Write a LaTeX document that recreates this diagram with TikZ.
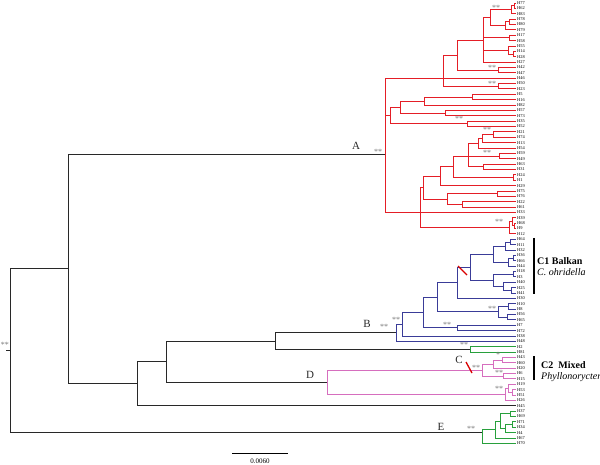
\documentclass[tikz,border=0pt]{standalone}
\usepackage{fontspec}
\setmainfont{Liberation Serif}
\usetikzlibrary{positioning}
\definecolor{cladeA}{RGB}{228,30,38}
\definecolor{cladeB}{RGB}{58,60,152}
\definecolor{cladeD}{RGB}{214,110,190}
\definecolor{cladeE}{RGB}{40,160,60}
\definecolor{stemgray}{RGB}{40,40,40}
\definecolor{bootgray}{RGB}{120,120,120}

\begin{document}
\begin{tikzpicture}[
  x=1pt, y=-1pt,
  br/.style={line width=0.85pt},
  brA/.style={br, cladeA},
  brB/.style={br, cladeB},
  brD/.style={br, cladeD},
  brE/.style={br, cladeE},
  brK/.style={br, stemgray},
  leaf/.style={anchor=west, inner sep=1pt, font=\fontsize{4.4}{5}\selectfont},
  bs/.style={text=bootgray, inner sep=0pt, font=\fontsize{8}{8}\selectfont},
  clab/.style={text=stemgray, inner sep=0pt, font=\fontsize{11}{11}\selectfont},
  grp/.style={anchor=base west, inner sep=0pt, font=\fontsize{10}{12}\selectfont},
  redcut/.style={line width=1.3pt, red!85!black},
  cbracket/.style={line width=1.2pt, black}
]
  \useasboundingbox (0,0) rectangle (600,465);

  % Leaves
  \foreach \lab [count=\i from 0] in {H77,H62,H83,H78,H80,H79,H17,H58,H55,H14,H28,H27,H42,H47,H46,H50,H23,H5,H16,H82,H57,H73,H35,H52,H21,H74,H13,H54,H59,H49,H63,H31,H24,H1,H29,H75,H76,H22,H61,H33,H39,H68,H9,H12,H64,H11,H32,H36,H66,H44,H18,H3,H40,H25,H41,H30,H10,H8,H56,H65,H7,H72,H38,H48,H2,H81,H43,H60,H20,H6,H15,H19,H53,H51,H26,H45,H37,H69,H71,H34,H4,H67,H70}
    \node[leaf] (L\i) at (516,{3+5.37*\i}) {\lab};

  % Backbone
  \coordinate (kS) at (6,350);
  \coordinate (k0) at (10,350);
  \coordinate (kTop) at (68,268.7);
  \coordinate (kBot) at (137,383.4);
  \coordinate (kBD) at (166,361.5);
  \coordinate (kB) at (275,341.1);

  % Clade A
  \coordinate (a0) at (385,154);
  \coordinate (aL) at (443,78.18);
  \coordinate (aK) at (457,55.1);
  \coordinate (aI) at (483,40);
  \coordinate (aD) at (490,17.8);
  \coordinate (aB) at (511,9.7);
  \coordinate (aAB) at (514,5.7);
  \coordinate (aC) at (505,25.8);
  \coordinate (aC1) at (509,21.8);
  \coordinate (aE) at (509,37.9);
  \coordinate (aG) at (508,50);
  \coordinate (aG1) at (513,54);
  \coordinate (aJ) at (498,70.1);
  \coordinate (aM) at (498,86.2);
  \coordinate (aS) at (390,115.4);
  \coordinate (aS4) at (400,107.05);
  \coordinate (aS2) at (424,101);
  \coordinate (aS1) at (472,97);
  \coordinate (aS3) at (445,113.1);
  \coordinate (aS5) at (467,123.8);
  \coordinate (aT) at (420,212.43);
  \coordinate (aU) at (423,187.6);
  \coordinate (aW) at (440,176.2);
  \coordinate (aW1) at (453,166.8);
  \coordinate (aQ6) at (468,156);
  \coordinate (aQ3) at (478,143.3);
  \coordinate (aQ2) at (482,138.6);
  \coordinate (aQ1) at (493,134.6);
  \coordinate (aQ4) at (499,156);
  \coordinate (aQ5) at (483,166.8);
  \coordinate (aQ7) at (513,177.5);
  \coordinate (aX) at (447,199);
  \coordinate (aX1) at (497,193.6);
  \coordinate (aX2) at (462,204.4);
  \coordinate (aV) at (509,227.9);
  \coordinate (aV2) at (512,221.8);
  \coordinate (aV1) at (514,225.9);

  % Clade B
  \coordinate (b15) at (396,332.8);
  \coordinate (b14) at (402,324.3);
  \coordinate (b13) at (423,312.6);
  \coordinate (b12) at (457,327.9);
  \coordinate (b11) at (437,297.3);
  \coordinate (b10) at (498,311.8);
  \coordinate (b10a) at (508,306.4);
  \coordinate (b10b) at (507,317.1);
  \coordinate (b9) at (457,282.8);
  \coordinate (b8) at (470,267.2);
  \coordinate (b7) at (493,280.2);
  \coordinate (b6) at (503,286.3);
  \coordinate (b6a) at (511,290.3);
  \coordinate (b5) at (513,274.2);
  \coordinate (b4) at (493,254.1);
  \coordinate (b3) at (508,262.1);
  \coordinate (b3a) at (513,258.1);
  \coordinate (b2) at (505,246);
  \coordinate (b1) at (510,242);
  \coordinate (g1) at (470,349.4);

  % Clade D
  \coordinate (pR) at (327,382.3);
  \coordinate (pC) at (482,370.2);
  \coordinate (p2) at (493,364.1);
  \coordinate (p1) at (502,360.1);
  \coordinate (p3) at (503,376.2);
  \coordinate (p5) at (505,394.3);
  \coordinate (p4) at (508,388.3);
  \coordinate (p4a) at (512,392.3);

  % Clade E
  \coordinate (eR) at (482,432);
  \coordinate (e4) at (495,429.6);
  \coordinate (e4a) at (500,421.2);
  \coordinate (e1) at (510,413.8);
  \coordinate (e3) at (505,428.6);
  \coordinate (e3a) at (512,424.5);

  % Branches
  \draw[brK] (kS) -- (k0);
  \foreach \p/\c in {k0/kTop, k0/eR, kTop/a0, kTop/kBot, kBot/kBD, kBot/L75, kBD/kB, kBD/pR, kB/b15, kB/g1}
    \draw[brK] (\p) |- (\c);
  \foreach \p/\c in {a0/aL, a0/aS, a0/aT, aL/aK, aL/L14, aL/aM, aK/aI, aK/aJ, aI/aD, aI/aE, aI/aG, aI/L11,
      aD/aB, aD/aC, aB/aAB, aB/L2, aAB/L0, aAB/L1, aC/aC1, aC/L5, aC1/L3, aC1/L4, aE/L6, aE/L7,
      aG/L8, aG/aG1, aG1/L9, aG1/L10, aJ/L12, aJ/L13, aM/L15, aM/L16,
      aS/aS4, aS/aS5, aS4/aS2, aS4/aS3, aS2/aS1, aS2/L19, aS1/L17, aS1/L18, aS3/L20, aS3/L21, aS5/L22, aS5/L23,
      aT/aU, aT/L39, aT/aV, aU/aW, aU/aX, aW/aW1, aW/L34, aW1/aQ6, aW1/aQ7,
      aQ6/aQ3, aQ6/aQ4, aQ6/aQ5, aQ3/aQ2, aQ3/L27, aQ2/aQ1, aQ2/L26, aQ1/L24, aQ1/L25,
      aQ4/L28, aQ4/L29, aQ5/L30, aQ5/L31, aQ7/L32, aQ7/L33,
      aX/aX1, aX/aX2, aX1/L35, aX1/L36, aX2/L37, aX2/L38,
      aV/aV2, aV/L43, aV2/L40, aV2/aV1, aV1/L41, aV1/L42}
    \draw[brA] (\p) |- (\c);
  \foreach \p/\c in {b15/b14, b15/L63, b14/b13, b14/L62, b13/b11, b13/b12, b12/L60, b12/L61,
      b11/b9, b11/b10, b10/b10a, b10/b10b, b10a/L56, b10a/L57, b10b/L58, b10b/L59,
      b9/b8, b9/L55, b8/b4, b8/b7, b7/b5, b7/b6, b6/L52, b6/b6a, b6a/L53, b6a/L54,
      b5/L50, b5/L51, b4/b2, b4/b3, b3/b3a, b3/L49, b3a/L47, b3a/L48, b2/b1, b2/L46, b1/L44, b1/L45}
    \draw[brB] (\p) |- (\c);
  \foreach \p/\c in {pR/pC, pR/p5, pC/p2, pC/p3, p2/p1, p2/L68, p1/L66, p1/L67, p3/L69, p3/L70,
      p5/p4, p5/L74, p4/L71, p4/p4a, p4a/L72, p4a/L73}
    \draw[brD] (\p) |- (\c);
  \foreach \p/\c in {g1/L64, g1/L65, eR/e4, eR/L82, e4/e4a, e4/L81, e4a/e1, e4a/e3,
      e1/L76, e1/L77, e3/e3a, e3/L80, e3a/L78, e3a/L79}
    \draw[brE] (\p) |- (\c);

  % Support values
  \node[bs] (s0) at (5,345) {**};
  \node[bs] (sA) at (378,152) {**};
  \node[bs] (sB1) at (384,327) {**};
  \node[bs] (sB2) at (396,320) {**};
  \node[bs] (sG) at (464,345) {**};
  \node[bs] (sC) at (476,368) {**};
  \node[bs] (sp1) at (498,355) {*};
  \node[bs] (sp3) at (499,373) {**};
  \node[bs] (sp4) at (499,389) {**};
  \node[bs] (sE) at (471,429) {**};
  \node[bs] (sb10) at (492,309) {**};
  \node[bs] (sb12) at (447,325) {**};
  \node[bs] (saD) at (496,8) {**};
  \node[bs] (saJ) at (492,68) {**};
  \node[bs] (saM) at (492,84) {**};
  \node[bs] (saS5) at (459,119) {**};
  \node[bs] (saQ1) at (487,130) {**};
  \node[bs] (saQ4) at (487,153) {**};
  \node[bs] (saV) at (499,222) {**};

  % Clade letters
  \node[clab] (labA) at (356,146) {A};
  \node[clab] (labB) at (367,324) {B};
  \node[clab] (labC) at (459,360) {C};
  \node[clab] (labD) at (310,375) {D};
  \node[clab] (labE) at (441,427) {E};

  % Marks
  \coordinate (cut1a) at (458,266);
  \coordinate (cut1b) at (467,275);
  \coordinate (cut2a) at (466,362);
  \coordinate (cut2b) at (472,373);
  \draw[redcut] (cut1a) -- (cut1b);
  \draw[redcut] (cut2a) -- (cut2b);

  % Groups
  \coordinate (c1t) at (534,238);
  \coordinate (c1b) at (534,294);
  \draw[cbracket] (c1t) -- (c1b);
  \node[grp, font=\fontsize{10}{12}\selectfont\bfseries] (c1name) at (537,264.3) {C1 Balkan};
  \node[grp, font=\fontsize{10}{12}\selectfont\itshape] (c1sp) at (537,276) {C. ohridella};
  \coordinate (c2t) at (534,356);
  \coordinate (c2b) at (534,380);
  \draw[cbracket] (c2t) -- (c2b);
  \node[grp, font=\fontsize{10}{12}\selectfont\bfseries] (c2name) at (541,368) {C2\enspace Mixed};
  \node[grp, font=\fontsize{10}{12}\selectfont\itshape] (c2sp) at (541,379) {Phyllonorycter};

  % Scale
  \coordinate (sbL) at (232,453);
  \coordinate (sbR) at (288,453);
  \draw[br, black] (sbL) -- (sbR);
  \node[inner sep=0pt, font=\fontsize{7}{7}\selectfont] (sbT) at (260,461) {0.0060};
\end{tikzpicture}
\end{document}
